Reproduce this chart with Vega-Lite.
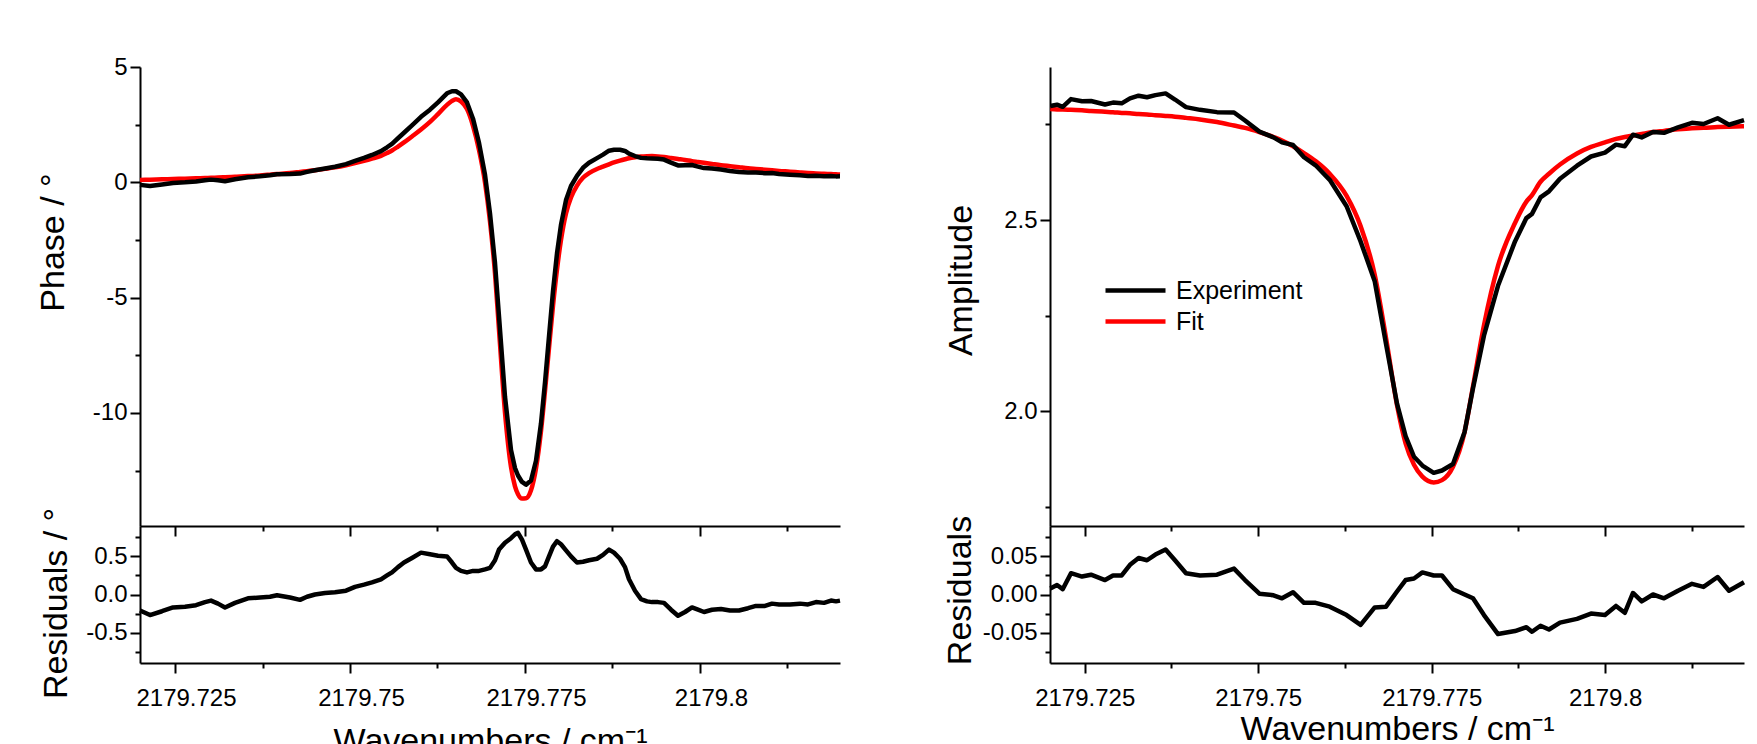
{
  "$schema": "https://vega.github.io/schema/vega-lite/v6.json",
  "padding": {"left": 36, "top": 55, "right": 10, "bottom": 0},
  "config": {
    "view": {"stroke": null},
    "font": "Liberation Sans",
    "axis": {
      "domainColor": "#000000", "domainWidth": 2, "tickColor": "#000000", "tickWidth": 2, "tickSize": 10,
      "labelFont": "Liberation Sans", "labelFontSize": 24, "labelColor": "#000000", "labelPadding": 3,
      "titleFont": "Liberation Sans", "titleFontSize": 34, "titleFontWeight": "normal", "titleColor": "#000000",
      "grid": false, "labelOverlap": false, "labelFlush": false
    },
    "axisX": {"labelPadding": 13},
    "line": {"strokeWidth": 4.5, "strokeJoin": "round"}
  },
  "datasets": {
    "phase": [
      {"wn": 2179.72, "fit": 0.10, "res": -0.21, "exp": -0.11},
      {"wn": 2179.721429, "fit": 0.113, "res": -0.27, "exp": -0.157},
      {"wn": 2179.723143, "fit": 0.129, "res": -0.22, "exp": -0.091},
      {"wn": 2179.724714, "fit": 0.144, "res": -0.17, "exp": -0.026},
      {"wn": 2179.726429, "fit": 0.16, "res": -0.16, "exp": 0.0},
      {"wn": 2179.728, "fit": 0.175, "res": -0.14, "exp": 0.035},
      {"wn": 2179.729286, "fit": 0.188, "res": -0.10, "exp": 0.088},
      {"wn": 2179.730143, "fit": 0.197, "res": -0.08, "exp": 0.117},
      {"wn": 2179.731143, "fit": 0.208, "res": -0.12, "exp": 0.088},
      {"wn": 2179.732143, "fit": 0.22, "res": -0.17, "exp": 0.05},
      {"wn": 2179.733571, "fit": 0.242, "res": -0.11, "exp": 0.132},
      {"wn": 2179.735429, "fit": 0.27, "res": -0.05, "exp": 0.22},
      {"wn": 2179.737143, "fit": 0.30, "res": -0.04, "exp": 0.26},
      {"wn": 2179.738571, "fit": 0.333, "res": -0.03, "exp": 0.303},
      {"wn": 2179.739571, "fit": 0.357, "res": -0.01, "exp": 0.347},
      {"wn": 2179.741429, "fit": 0.40, "res": -0.04, "exp": 0.36},
      {"wn": 2179.742857, "fit": 0.45, "res": -0.07, "exp": 0.38},
      {"wn": 2179.743857, "fit": 0.485, "res": -0.03, "exp": 0.455},
      {"wn": 2179.745, "fit": 0.525, "res": 0.0, "exp": 0.525},
      {"wn": 2179.746429, "fit": 0.583, "res": 0.02, "exp": 0.603},
      {"wn": 2179.747857, "fit": 0.648, "res": 0.03, "exp": 0.678},
      {"wn": 2179.749429, "fit": 0.74, "res": 0.05, "exp": 0.79},
      {"wn": 2179.750714, "fit": 0.83, "res": 0.10, "exp": 0.93},
      {"wn": 2179.752, "fit": 0.928, "res": 0.13, "exp": 1.058},
      {"wn": 2179.753143, "fit": 1.026, "res": 0.16, "exp": 1.186},
      {"wn": 2179.754429, "fit": 1.15, "res": 0.20, "exp": 1.35},
      {"wn": 2179.755286, "fit": 1.27, "res": 0.25, "exp": 1.52},
      {"wn": 2179.756, "fit": 1.38, "res": 0.29, "exp": 1.67},
      {"wn": 2179.756857, "fit": 1.55, "res": 0.36, "exp": 1.91},
      {"wn": 2179.757714, "fit": 1.73, "res": 0.42, "exp": 2.15},
      {"wn": 2179.758857, "fit": 1.99, "res": 0.48, "exp": 2.47},
      {"wn": 2179.760143, "fit": 2.29, "res": 0.55, "exp": 2.84},
      {"wn": 2179.761429, "fit": 2.62, "res": 0.53, "exp": 3.15},
      {"wn": 2179.762571, "fit": 2.96, "res": 0.51, "exp": 3.47},
      {"wn": 2179.763857, "fit": 3.36, "res": 0.50, "exp": 3.86},
      {"wn": 2179.764571, "fit": 3.53, "res": 0.42, "exp": 3.95},
      {"wn": 2179.765143, "fit": 3.60, "res": 0.35, "exp": 3.95},
      {"wn": 2179.765857, "fit": 3.505, "res": 0.31, "exp": 3.815},
      {"wn": 2179.766714, "fit": 3.175, "res": 0.29, "exp": 3.465},
      {"wn": 2179.767571, "fit": 2.45, "res": 0.31, "exp": 2.76},
      {"wn": 2179.768429, "fit": 1.4, "res": 0.31, "exp": 1.71},
      {"wn": 2179.769286, "fit": 0.0, "res": 0.33, "exp": 0.33},
      {"wn": 2179.77, "fit": -1.7, "res": 0.35, "exp": -1.35},
      {"wn": 2179.770714, "fit": -3.95, "res": 0.45, "exp": -3.5},
      {"wn": 2179.771286, "fit": -6.4, "res": 0.59, "exp": -5.81},
      {"wn": 2179.772143, "fit": -9.98, "res": 0.68, "exp": -9.3},
      {"wn": 2179.773, "fit": -12.34, "res": 0.74, "exp": -11.6},
      {"wn": 2179.773571, "fit": -13.18, "res": 0.79, "exp": -12.39},
      {"wn": 2179.774, "fit": -13.52, "res": 0.81, "exp": -12.71},
      {"wn": 2179.774571, "fit": -13.71, "res": 0.72, "exp": -12.99},
      {"wn": 2179.775143, "fit": -13.70, "res": 0.59, "exp": -13.11},
      {"wn": 2179.775857, "fit": -13.35, "res": 0.42, "exp": -12.93},
      {"wn": 2179.776571, "fit": -12.4, "res": 0.33, "exp": -12.07},
      {"wn": 2179.777286, "fit": -10.78, "res": 0.33, "exp": -10.45},
      {"wn": 2179.777857, "fit": -9.05, "res": 0.37, "exp": -8.68},
      {"wn": 2179.778429, "fit": -7.18, "res": 0.50, "exp": -6.68},
      {"wn": 2179.779, "fit": -5.35, "res": 0.63, "exp": -4.72},
      {"wn": 2179.779571, "fit": -3.78, "res": 0.70, "exp": -3.08},
      {"wn": 2179.780143, "fit": -2.5, "res": 0.66, "exp": -1.84},
      {"wn": 2179.780857, "fit": -1.35, "res": 0.58, "exp": -0.77},
      {"wn": 2179.781571, "fit": -0.66, "res": 0.50, "exp": -0.16},
      {"wn": 2179.782429, "fit": -0.14, "res": 0.42, "exp": 0.28},
      {"wn": 2179.783286, "fit": 0.2, "res": 0.43, "exp": 0.63},
      {"wn": 2179.784143, "fit": 0.40, "res": 0.45, "exp": 0.85},
      {"wn": 2179.785286, "fit": 0.58, "res": 0.47, "exp": 1.05},
      {"wn": 2179.786143, "fit": 0.68, "res": 0.52, "exp": 1.20},
      {"wn": 2179.787, "fit": 0.78, "res": 0.59, "exp": 1.37},
      {"wn": 2179.787714, "fit": 0.86, "res": 0.55, "exp": 1.41},
      {"wn": 2179.788571, "fit": 0.94, "res": 0.47, "exp": 1.41},
      {"wn": 2179.789286, "fit": 1.0, "res": 0.36, "exp": 1.36},
      {"wn": 2179.789857, "fit": 1.045, "res": 0.20, "exp": 1.245},
      {"wn": 2179.790714, "fit": 1.09, "res": 0.05, "exp": 1.14},
      {"wn": 2179.791571, "fit": 1.12, "res": -0.06, "exp": 1.06},
      {"wn": 2179.792429, "fit": 1.134, "res": -0.09, "exp": 1.044},
      {"wn": 2179.793143, "fit": 1.138, "res": -0.10, "exp": 1.038},
      {"wn": 2179.794, "fit": 1.124, "res": -0.10, "exp": 1.024},
      {"wn": 2179.794857, "fit": 1.096, "res": -0.11, "exp": 0.986},
      {"wn": 2179.795857, "fit": 1.054, "res": -0.20, "exp": 0.854},
      {"wn": 2179.796857, "fit": 1.012, "res": -0.28, "exp": 0.732},
      {"wn": 2179.797857, "fit": 0.97, "res": -0.23, "exp": 0.74},
      {"wn": 2179.798857, "fit": 0.92, "res": -0.17, "exp": 0.75},
      {"wn": 2179.799714, "fit": 0.883, "res": -0.20, "exp": 0.683},
      {"wn": 2179.800571, "fit": 0.846, "res": -0.23, "exp": 0.616},
      {"wn": 2179.801714, "fit": 0.798, "res": -0.20, "exp": 0.598},
      {"wn": 2179.803, "fit": 0.745, "res": -0.19, "exp": 0.555},
      {"wn": 2179.804286, "fit": 0.7, "res": -0.21, "exp": 0.49},
      {"wn": 2179.805571, "fit": 0.655, "res": -0.21, "exp": 0.445},
      {"wn": 2179.806857, "fit": 0.61, "res": -0.18, "exp": 0.43},
      {"wn": 2179.808, "fit": 0.58, "res": -0.15, "exp": 0.43},
      {"wn": 2179.809286, "fit": 0.547, "res": -0.15, "exp": 0.397},
      {"wn": 2179.810286, "fit": 0.52, "res": -0.12, "exp": 0.40},
      {"wn": 2179.811286, "fit": 0.494, "res": -0.13, "exp": 0.364},
      {"wn": 2179.812857, "fit": 0.463, "res": -0.13, "exp": 0.333},
      {"wn": 2179.814286, "fit": 0.43, "res": -0.12, "exp": 0.31},
      {"wn": 2179.815429, "fit": 0.406, "res": -0.13, "exp": 0.276},
      {"wn": 2179.816571, "fit": 0.388, "res": -0.10, "exp": 0.288},
      {"wn": 2179.817714, "fit": 0.372, "res": -0.11, "exp": 0.262},
      {"wn": 2179.818714, "fit": 0.358, "res": -0.08, "exp": 0.278},
      {"wn": 2179.819429, "fit": 0.348, "res": -0.09, "exp": 0.258},
      {"wn": 2179.82, "fit": 0.34, "res": -0.08, "exp": 0.26}
    ],
    "amp": [
      {"wn": 2179.720043, "fit": 2.79, "res": 0.008, "exp": 2.798},
      {"wn": 2179.721009, "fit": 2.789, "res": 0.0125, "exp": 2.8015},
      {"wn": 2179.72183, "fit": 2.789, "res": 0.007, "exp": 2.796},
      {"wn": 2179.723026, "fit": 2.788, "res": 0.028, "exp": 2.816},
      {"wn": 2179.724611, "fit": 2.787, "res": 0.0236, "exp": 2.8106},
      {"wn": 2179.725908, "fit": 2.785, "res": 0.026, "exp": 2.811},
      {"wn": 2179.727925, "fit": 2.783, "res": 0.019, "exp": 2.802},
      {"wn": 2179.729078, "fit": 2.782, "res": 0.025, "exp": 2.807},
      {"wn": 2179.730331, "fit": 2.78, "res": 0.025, "exp": 2.805},
      {"wn": 2179.731527, "fit": 2.779, "res": 0.039, "exp": 2.818},
      {"wn": 2179.732767, "fit": 2.777, "res": 0.048, "exp": 2.825},
      {"wn": 2179.733977, "fit": 2.776, "res": 0.045, "exp": 2.821},
      {"wn": 2179.735187, "fit": 2.774, "res": 0.0525, "exp": 2.8265},
      {"wn": 2179.736657, "fit": 2.772, "res": 0.059, "exp": 2.831},
      {"wn": 2179.738012, "fit": 2.77, "res": 0.045, "exp": 2.815},
      {"wn": 2179.739597, "fit": 2.767, "res": 0.028, "exp": 2.795},
      {"wn": 2179.741614, "fit": 2.763, "res": 0.025, "exp": 2.788},
      {"wn": 2179.744063, "fit": 2.756, "res": 0.026, "exp": 2.782},
      {"wn": 2179.746513, "fit": 2.747, "res": 0.034, "exp": 2.781},
      {"wn": 2179.748098, "fit": 2.741, "res": 0.019, "exp": 2.76},
      {"wn": 2179.750173, "fit": 2.73, "res": 0.001, "exp": 2.731},
      {"wn": 2179.752205, "fit": 2.717, "res": -0.001, "exp": 2.716},
      {"wn": 2179.753429, "fit": 2.708, "res": -0.005, "exp": 2.703},
      {"wn": 2179.755014, "fit": 2.693, "res": 0.003, "exp": 2.696},
      {"wn": 2179.756599, "fit": 2.675, "res": -0.011, "exp": 2.664},
      {"wn": 2179.758271, "fit": 2.654, "res": -0.011, "exp": 2.643},
      {"wn": 2179.760303, "fit": 2.621, "res": -0.016, "exp": 2.605},
      {"wn": 2179.762738, "fit": 2.563, "res": -0.027, "exp": 2.536},
      {"wn": 2179.764755, "fit": 2.484, "res": -0.04, "exp": 2.444},
      {"wn": 2179.766787, "fit": 2.357, "res": -0.017, "exp": 2.34},
      {"wn": 2179.768415, "fit": 2.192, "res": -0.016, "exp": 2.176},
      {"wn": 2179.77, "fit": 2.016, "res": 0.004, "exp": 2.02},
      {"wn": 2179.771239, "fit": 1.916, "res": 0.019, "exp": 1.935},
      {"wn": 2179.77245, "fit": 1.86, "res": 0.021, "exp": 1.881},
      {"wn": 2179.77366, "fit": 1.829, "res": 0.029, "exp": 1.858},
      {"wn": 2179.775288, "fit": 1.814, "res": 0.025, "exp": 1.839},
      {"wn": 2179.776484, "fit": 1.82, "res": 0.025, "exp": 1.845},
      {"wn": 2179.778069, "fit": 1.855, "res": 0.007, "exp": 1.862},
      {"wn": 2179.779741, "fit": 1.946, "res": 0.0, "exp": 1.946},
      {"wn": 2179.780951, "fit": 2.065, "res": -0.005, "exp": 2.06},
      {"wn": 2179.782536, "fit": 2.225, "res": -0.027, "exp": 2.198},
      {"wn": 2179.784553, "fit": 2.38, "res": -0.052, "exp": 2.328},
      {"wn": 2179.787003, "fit": 2.492, "res": -0.048, "exp": 2.444},
      {"wn": 2179.788646, "fit": 2.548, "res": -0.043, "exp": 2.505},
      {"wn": 2179.789452, "fit": 2.565, "res": -0.049, "exp": 2.516},
      {"wn": 2179.790677, "fit": 2.6, "res": -0.041, "exp": 2.559},
      {"wn": 2179.791902, "fit": 2.621, "res": -0.046, "exp": 2.575},
      {"wn": 2179.793487, "fit": 2.645, "res": -0.037, "exp": 2.608},
      {"wn": 2179.795937, "fit": 2.674, "res": -0.032, "exp": 2.642},
      {"wn": 2179.797954, "fit": 2.691, "res": -0.025, "exp": 2.666},
      {"wn": 2179.79997, "fit": 2.703, "res": -0.027, "exp": 2.676},
      {"wn": 2179.801556, "fit": 2.712, "res": -0.015, "exp": 2.697},
      {"wn": 2179.802824, "fit": 2.717, "res": -0.024, "exp": 2.693},
      {"wn": 2179.804006, "fit": 2.721, "res": 0.002, "exp": 2.723},
      {"wn": 2179.805259, "fit": 2.725, "res": -0.009, "exp": 2.716},
      {"wn": 2179.806888, "fit": 2.73, "res": 0.0, "exp": 2.73},
      {"wn": 2179.808473, "fit": 2.733, "res": -0.005, "exp": 2.728},
      {"wn": 2179.81049, "fit": 2.737, "res": 0.005, "exp": 2.742},
      {"wn": 2179.812507, "fit": 2.74, "res": 0.014, "exp": 2.754},
      {"wn": 2179.814164, "fit": 2.741, "res": 0.01, "exp": 2.751},
      {"wn": 2179.816196, "fit": 2.743, "res": 0.023, "exp": 2.766},
      {"wn": 2179.817839, "fit": 2.744, "res": 0.005, "exp": 2.749},
      {"wn": 2179.82, "fit": 2.745, "res": 0.016, "exp": 2.761}
    ]
  },
  "columns": 2,
  "spacing": {"row": 0, "column": 210},
  "bounds": "flush",
  "align": "each",
  "resolve": {"scale": {"color": "independent", "x": "independent", "y": "independent"}, "legend": {"color": "independent"}},
  "concat": [
    {
      "width": 700, "height": 459,
      "data": {"name": "phase"},
      "layer": [
        {
          "mark": {"type": "line", "color": "#ff0000", "interpolate": "monotone"},
          "encoding": {
            "x": {"field": "wn", "type": "quantitative", "scale": {"domain": [2179.72, 2179.82], "nice": false, "zero": false},
                  "axis": {"values": [2179.725, 2179.7375, 2179.75, 2179.7625, 2179.775, 2179.7875, 2179.8, 2179.8125], "labels": false, "title": null,
                           "tickSize": {"condition": {"test": "abs(datum.value*40 - round(datum.value*40)) < 0.01", "value": 10}, "value": 5}}},
            "y": {"field": "fit", "type": "quantitative", "scale": {"domain": [-14.9, 5], "nice": false, "zero": false},
                  "axis": {"values": [-12.5, -10, -7.5, -5, -2.5, 0, 2.5, 5], "format": "d",
                           "labelExpr": "abs(datum.value % 5) < 0.001 ? replace(datum.label, '−', '-') : ''",
                           "title": "Phase / °", "titlePadding": 22, "titleY": 175,
                           "tickSize": {"condition": {"test": "abs(datum.value % 5) < 0.001", "value": 10}, "value": 5}}}
          }
        },
        {
          "mark": {"type": "line", "color": "#000000"},
          "encoding": {
            "x": {"field": "wn", "type": "quantitative", "scale": {"domain": [2179.72, 2179.82], "nice": false, "zero": false},
                  "axis": {"values": [2179.725, 2179.7375, 2179.75, 2179.7625, 2179.775, 2179.7875, 2179.8, 2179.8125], "labels": false, "title": null,
                           "tickSize": {"condition": {"test": "abs(datum.value*40 - round(datum.value*40)) < 0.01", "value": 10}, "value": 5}}},
            "y": {"field": "exp", "type": "quantitative", "scale": {"domain": [-14.9, 5], "nice": false, "zero": false},
                  "axis": {"values": [-12.5, -10, -7.5, -5, -2.5, 0, 2.5, 5], "format": "d",
                           "labelExpr": "abs(datum.value % 5) < 0.001 ? replace(datum.label, '−', '-') : ''",
                           "title": "Phase / °", "titlePadding": 22, "titleY": 175,
                           "tickSize": {"condition": {"test": "abs(datum.value % 5) < 0.001", "value": 10}, "value": 5}}}
          }
        }
      ]
    },
    {
      "width": 694, "height": 459,
      "data": {"name": "amp"},
      "layer": [
        {
          "mark": {"type": "line", "interpolate": "monotone"},
          "encoding": {
            "x": {"field": "wn", "type": "quantitative", "scale": {"domain": [2179.72, 2179.82], "nice": false, "zero": false},
                  "axis": {"values": [2179.725, 2179.7375, 2179.75, 2179.7625, 2179.775, 2179.7875, 2179.8, 2179.8125], "labels": false, "title": null,
                           "tickSize": {"condition": {"test": "abs(datum.value*40 - round(datum.value*40)) < 0.01", "value": 10}, "value": 5}}},
            "y": {"field": "fit", "type": "quantitative", "scale": {"domain": [1.7, 2.9], "nice": false, "zero": false},
                  "axis": {"values": [1.75, 2, 2.25, 2.5, 2.75], "format": ".1f",
                           "labelExpr": "abs(datum.value*2 - round(datum.value*2)) < 0.001 ? datum.label : ''",
                           "title": "Amplitude", "titlePadding": 25, "titleY": 213,
                           "tickSize": {"condition": {"test": "abs(datum.value*2 - round(datum.value*2)) < 0.001", "value": 10}, "value": 5}}},
            "color": {"datum": "Fit", "type": "nominal",
                      "scale": {"domain": ["Experiment", "Fit"], "range": ["#000000", "#ff0000"]},
                      "legend": {"title": null, "orient": "none", "legendX": 53, "legendY": 208, "symbolType": "stroke", "symbolSize": 3600,
                                 "symbolStrokeWidth": 4.5, "labelFontSize": 25, "labelFont": "Liberation Sans", "labelColor": "#000000",
                                 "labelOffset": 8, "clipHeight": 31, "padding": 0, "rowPadding": 0}}
          }
        },
        {
          "mark": {"type": "line"},
          "encoding": {
            "x": {"field": "wn", "type": "quantitative", "scale": {"domain": [2179.72, 2179.82], "nice": false, "zero": false},
                  "axis": {"values": [2179.725, 2179.7375, 2179.75, 2179.7625, 2179.775, 2179.7875, 2179.8, 2179.8125], "labels": false, "title": null,
                           "tickSize": {"condition": {"test": "abs(datum.value*40 - round(datum.value*40)) < 0.01", "value": 10}, "value": 5}}},
            "y": {"field": "exp", "type": "quantitative", "scale": {"domain": [1.7, 2.9], "nice": false, "zero": false},
                  "axis": {"values": [1.75, 2, 2.25, 2.5, 2.75], "format": ".1f",
                           "labelExpr": "abs(datum.value*2 - round(datum.value*2)) < 0.001 ? datum.label : ''",
                           "title": "Amplitude", "titlePadding": 25, "titleY": 213,
                           "tickSize": {"condition": {"test": "abs(datum.value*2 - round(datum.value*2)) < 0.001", "value": 10}, "value": 5}}},
            "color": {"datum": "Experiment", "type": "nominal"}
          }
        }
      ]
    },
    {
      "width": 700, "height": 137,
      "data": {"name": "phase"},
      "mark": {"type": "line", "color": "#000000"},
      "encoding": {
        "x": {"field": "wn", "type": "quantitative", "scale": {"domain": [2179.72, 2179.82], "nice": false, "zero": false},
              "axis": {"values": [2179.725, 2179.7375, 2179.75, 2179.7625, 2179.775, 2179.7875, 2179.8, 2179.8125], "format": ".3~f",
                       "labelExpr": "abs(datum.value*40 - round(datum.value*40)) < 0.01 ? datum.label : ''", "labelOffset": 11,
                       "title": "Wavenumbers / cm⁻¹", "titlePadding": 14,
                       "tickSize": {"condition": {"test": "abs(datum.value*40 - round(datum.value*40)) < 0.01", "value": 10}, "value": 5}}},
        "y": {"field": "res", "type": "quantitative", "scale": {"domain": [-0.9, 0.9], "nice": false, "zero": false},
              "axis": {"values": [-0.75, -0.5, -0.25, 0, 0.25, 0.5, 0.75], "format": ".1f",
                       "labelExpr": "abs(datum.value*2 - round(datum.value*2)) < 0.001 ? replace(datum.label, '−', '-') : ''",
                       "title": "Residuals / °", "titlePadding": 12, "titleY": 77,
                       "tickSize": {"condition": {"test": "abs(datum.value*2 - round(datum.value*2)) < 0.001", "value": 10}, "value": 5}}}
      }
    },
    {
      "width": 694, "height": 137,
      "data": {"name": "amp"},
      "mark": {"type": "line", "color": "#000000"},
      "encoding": {
        "x": {"field": "wn", "type": "quantitative", "scale": {"domain": [2179.72, 2179.82], "nice": false, "zero": false},
              "axis": {"values": [2179.725, 2179.7375, 2179.75, 2179.7625, 2179.775, 2179.7875, 2179.8, 2179.8125], "format": ".3~f",
                       "labelExpr": "abs(datum.value*40 - round(datum.value*40)) < 0.01 ? datum.label : ''",
                       "title": "Wavenumbers / cm⁻¹", "titlePadding": 2,
                       "tickSize": {"condition": {"test": "abs(datum.value*40 - round(datum.value*40)) < 0.01", "value": 10}, "value": 5}}},
        "y": {"field": "res", "type": "quantitative", "scale": {"domain": [-0.09, 0.09], "nice": false, "zero": false},
              "axis": {"values": [-0.075, -0.05, -0.025, 0, 0.025, 0.05, 0.075], "format": ".2f",
                       "labelExpr": "abs(datum.value*20 - round(datum.value*20)) < 0.001 ? replace(datum.label, '−', '-') : ''",
                       "title": "Residuals", "titlePadding": 5, "titleY": 64,
                       "tickSize": {"condition": {"test": "abs(datum.value*20 - round(datum.value*20)) < 0.001", "value": 10}, "value": 5}}}
      }
    }
  ]
}
